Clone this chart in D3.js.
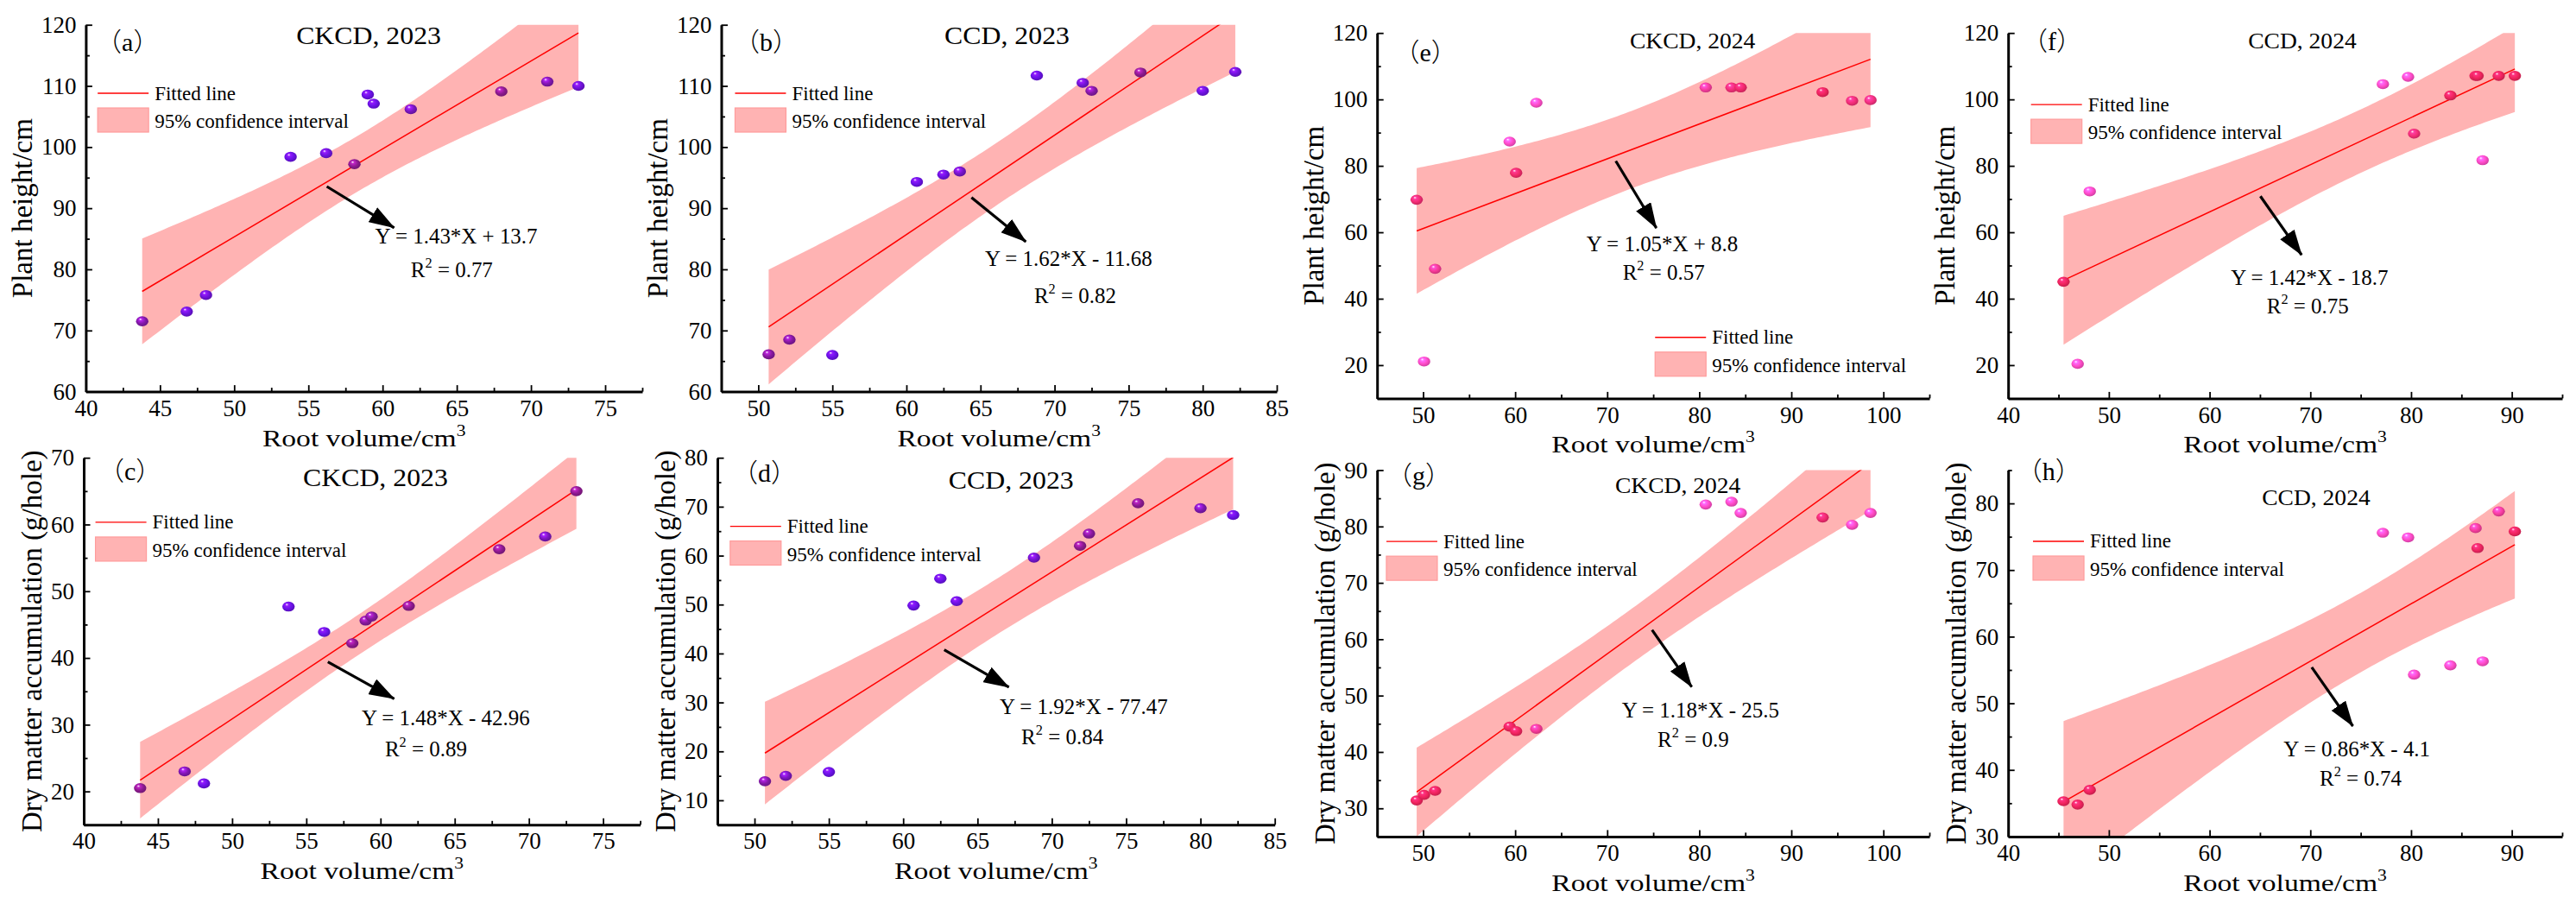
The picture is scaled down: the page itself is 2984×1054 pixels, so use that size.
<!DOCTYPE html>
<html>
<head>
<meta charset="utf-8">
<script src="https://cdn.jsdelivr.net/npm/d3@7"></script>
<style>
body { margin: 0; background: #fff; overflow: hidden; }
text { font-family: "Liberation Serif", "Times New Roman", serif; fill: #000; }
</style>
</head>
<body>
<script>
// ---- data ----
// root volume (cm3), shared by the plant-height and dry-matter panels of one treatment/year
var rootVolCKCD2023 = [43.8, 46.8, 48.1, 53.8, 56.2, 58.1, 59.0, 59.4, 61.9, 68.0, 71.1, 73.2];
var rootVolCCD2023 = [50.7, 52.1, 55.0, 60.7, 62.5, 63.6, 68.8, 71.9, 72.5, 75.8, 80.0, 82.2];
var rootVolCKCD2024 = [49.3, 50.1, 51.3, 59.4, 60.1, 62.3, 80.7, 83.5, 84.5, 93.4, 96.6, 98.6];
var rootVolCCD2024 = [45.5, 46.9, 48.1, 77.2, 79.7, 80.3, 83.9, 86.4, 86.6, 87.1, 88.7, 90.3];

// plant height (cm)
var heightCKCD2023 = [71.5, 73.1, 75.8, 98.4, 99.0, 97.2, 108.6, 107.1, 106.2, 109.1, 110.7, 110.0];
var heightCCD2023 = [66.1, 68.5, 66.0, 94.3, 95.5, 96.0, 111.7, 110.5, 109.2, 112.2, 109.2, 112.3];
var heightCKCD2024 = [69.8, 21.1, 49.0, 87.3, 77.9, 99.0, 103.6, 103.6, 103.6, 102.2, 99.6, 99.8];
var heightCCD2024 = [45.1, 20.4, 72.3, 104.6, 106.8, 89.7, 101.2, 107.1, 107.1, 81.7, 107.1, 107.1];

// dry matter accumulation (g/hole)
var dryCKCD2023 = [20.5, 23.0, 21.2, 47.7, 43.9, 42.2, 45.6, 46.2, 47.8, 56.3, 58.2, 65.0];
var dryCCD2023 = [13.9, 15.0, 15.8, 49.8, 55.3, 50.7, 59.6, 62.0, 64.5, 70.7, 69.7, 68.3];
var dryCKCD2024 = [31.4, 32.4, 33.1, 44.5, 43.7, 44.1, 83.9, 84.4, 82.4, 81.6, 80.3, 82.4];
var dryCCD2024 = [35.3, 34.8, 37.0, 75.6, 74.9, 54.3, 55.7, 76.3, 73.3, 56.3, 78.8, 75.8];

// tick labels
var xTicksCKCD2023 = [40, 45, 50, 55, 60, 65, 70, 75];
var xTicksCCD2023 = [50, 55, 60, 65, 70, 75, 80, 85];
var xTicksCKCD2024 = [50, 60, 70, 80, 90, 100];
var xTicksCCD2024 = [40, 50, 60, 70, 80, 90];
var yTicksHeight2023 = [60, 70, 80, 90, 100, 110, 120];
var yTicksHeight2024 = [20, 40, 60, 80, 100, 120];
var yTicksDryCKCD2023 = [20, 30, 40, 50, 60, 70];
var yTicksDryCCD2023 = [10, 20, 30, 40, 50, 60, 70, 80];
var yTicksDryCKCD2024 = [30, 40, 50, 60, 70, 80, 90];
var yTicksDryCCD2024 = [30, 40, 50, 60, 70, 80];

// texts
var panelLetters = ["a", "b", "c", "d", "e", "f", "g", "h"];
var panelTitles = ["CKCD, 2023", "CCD, 2023", "CKCD, 2023", "CCD, 2023",
                   "CKCD, 2024", "CCD, 2024", "CKCD, 2024", "CCD, 2024"];
var fitEquations = ["Y = 1.43*X + 13.7", "Y = 1.62*X - 11.68", "Y = 1.48*X - 42.96", "Y = 1.92*X - 77.47",
                    "Y = 1.05*X + 8.8", "Y = 1.42*X - 18.7", "Y = 1.18*X - 25.5", "Y = 0.86*X - 4.1"];
var rSquared = ["0.77", "0.82", "0.89", "0.84", "0.57", "0.75", "0.9", "0.74"];

// ---- layout of the eight panels ----
var panels = [
    { xs: rootVolCKCD2023, ys: heightCKCD2023, year: 2023, yLabel: "Plant height/cm",
      frame: { left: 99.4, right: 744, top: 28.7, bottom: 453.6 },
      xDomain: [40, 77.5], yDomain: [60, 120], xTicks: xTicksCKCD2023, xMinor: 2.5, yTicks: yTicksHeight2023, yMinor: 5,
      arrow: [[56.24, 93.55], [60.78, 86.8]], eqAt: [59.5, 84.2], r2At: [61.9, 78.7],
      titleAt: [59.06, 116.9], letterAt: [41.67, 115.7], legendAt: [40.8, 108.8] },
    { xs: rootVolCCD2023, ys: heightCCD2023, year: 2023, yLabel: "Plant height/cm",
      frame: { left: 835.5, right: 1479, top: 28.7, bottom: 453.6 },
      xDomain: [47.5, 85], yDomain: [60, 120], xTicks: xTicksCCD2023, xMinor: 2.5, yTicks: yTicksHeight2023, yMinor: 5,
      arrow: [[64.39, 91.74], [68.06, 84.53]], eqAt: [65.3, 80.56], r2At: [68.62, 74.42],
      titleAt: [66.79, 116.9], letterAt: [49.34, 115.7], legendAt: [48.43, 108.8] },
    { xs: rootVolCKCD2023, ys: dryCKCD2023, year: 2023, yLabel: "Dry matter accumulation (g/hole)",
      frame: { left: 97, right: 741.6, top: 530.2, bottom: 955.3 },
      xDomain: [40, 77.5], yDomain: [15, 70], xTicks: xTicksCKCD2023, xMinor: 2.5, yTicks: yTicksDryCKCD2023, yMinor: 5,
      arrow: [[56.45, 39.4], [60.92, 33.88]], eqAt: [58.73, 29.93], r2At: [60.3, 25.3],
      titleAt: [59.66, 65.8], letterAt: [41.98, 66.66], legendAt: [40.79, 60.33] },
    { xs: rootVolCCD2023, ys: dryCCD2023, year: 2023, yLabel: "Dry matter accumulation (g/hole)",
      frame: { left: 831, right: 1476.7, top: 530.2, bottom: 955.3 },
      xDomain: [47.5, 85], yDomain: [5, 80], xTicks: xTicksCCD2023, xMinor: 2.5, yTicks: yTicksDryCCD2023, yMinor: 5,
      arrow: [[62.76, 40.76], [67.11, 33.12]], eqAt: [66.49, 27.72], r2At: [67.95, 21.46],
      titleAt: [67.26, 73.7], letterAt: [49.48, 75.1], legendAt: [48.36, 66] },
    { xs: rootVolCKCD2024, ys: heightCKCD2024, year: 2024, yLabel: "Plant height/cm",
      frame: { left: 1595.2, right: 2235, top: 38.2, bottom: 461.4 },
      xDomain: [45, 105], yDomain: [10, 120], xTicks: xTicksCKCD2024, xMinor: 5, yTicks: yTicksHeight2024, yMinor: 10,
      arrow: [[70.93, 81.45], [75.34, 61.27]], eqAt: [67.75, 54.42], r2At: [71.68, 45.82],
      titleAt: [79.27, 115.43], letterAt: [48.4, 111.5], legendAt: [75.2, 28.36] },
    { xs: rootVolCCD2024, ys: heightCCD2024, year: 2024, yLabel: "Plant height/cm",
      frame: { left: 2326.2, right: 2968, top: 38.2, bottom: 461.4 },
      xDomain: [40, 95], yDomain: [10, 120], xTicks: xTicksCCD2024, xMinor: 5, yTicks: yTicksHeight2024, yMinor: 10,
      arrow: [[65.04, 70.87], [69.13, 53.18]], eqAt: [62.11, 44.17], r2At: [65.67, 35.48],
      titleAt: [69.2, 115.42], letterAt: [42.82, 114.98], legendAt: [42.27, 98.45] },
    { xs: rootVolCKCD2024, ys: dryCKCD2024, year: 2024, yLabel: "Dry matter accumulation (g/hole)",
      frame: { left: 1595.2, right: 2235, top: 544.5, bottom: 968.9 },
      xDomain: [45, 105], yDomain: [25, 90], xTicks: xTicksCKCD2024, xMinor: 5, yTicks: yTicksDryCKCD2024, yMinor: 5,
      arrow: [[74.87, 61.66], [79.18, 51.53]], eqAt: [71.59, 46.1], r2At: [75.47, 40.86],
      titleAt: [77.68, 85.93], letterAt: [47.6, 87.47], legendAt: [46.01, 77.34] },
    { xs: rootVolCCD2024, ys: dryCCD2024, year: 2024, yLabel: "Dry matter accumulation (g/hole)",
      frame: { left: 2326.2, right: 2968, top: 544.5, bottom: 968.9 },
      xDomain: [40, 95], yDomain: [30, 85], xTicks: xTicksCCD2024, xMinor: 5, yTicks: yTicksDryCCD2024, yMinor: 5,
      arrow: [[70.14, 55.4], [74.22, 46.58]], eqAt: [67.35, 42.05], r2At: [70.92, 37.65],
      titleAt: [70.57, 79.79], letterAt: [42.27, 83.54], legendAt: [42.47, 74.31] }
];

// near-line colour, far-from-line colour of the ball markers
var ballColors = { 2023: ["#8c1a8f", "#6a12e6"], 2024: ["#f0245e", "#ff4cc8"] };
var bandFill = "#ffb3b3";
var T_975 = 2.228; // Student t, 95% two-sided, df = 12 - 2

var svg = d3.select("body").append("svg")
    .attr("width", 2984)
    .attr("height", 1054);
var defs = svg.append("defs");

defs.append("marker")
    .attr("id", "arrowHead")
    .attr("viewBox", "0 0 30 20")
    .attr("refX", 29).attr("refY", 10)
    .attr("markerWidth", 30).attr("markerHeight", 20)
    .attr("markerUnits", "userSpaceOnUse")
    .attr("orient", "auto")
    .append("path")
    .attr("d", "M0,0 L30,10 L0,20 Z")
    .attr("fill", "#000");

//least squares fit with confidence band of the mean
function regression(xs, ys) {
    var n = xs.length, mx = d3.mean(xs), my = d3.mean(ys);
    var sxx = d3.sum(xs, function (v) { return (v - mx) * (v - mx); });
    var sxy = d3.sum(xs, function (v, i) { return (v - mx) * (ys[i] - my); });
    var b = sxy / sxx, a = my - b * mx;
    var s = Math.sqrt(d3.sum(xs, function (v, i) { return Math.pow(ys[i] - a - b * v, 2); }) / (n - 2));
    return {
        pred: function (v) { return a + b * v; },
        half: function (v) { return T_975 * s * Math.sqrt(1 / n + (v - mx) * (v - mx) / sxx); }
    };
}

//text with horizontal stretch around its anchor point
function addText(g, px, py, str, size, stretch, anchor) {
    return g.append("text")
        .attr("transform", "translate(" + px + "," + py + ") scale(" + stretch + ",1)")
        .attr("text-anchor", anchor || "start")
        .attr("font-size", size)
        .text(str);
}

function drawPanel(p, k) {
    var f = p.frame;
    var g = svg.append("g").attr("class", "panel-" + panelLetters[k]);

    var x = d3.scaleLinear().domain(p.xDomain).range([f.left, f.right]);
    var y = d3.scaleLinear().domain(p.yDomain).range([f.bottom, f.top]);

    defs.append("clipPath").attr("id", "clip" + k)
        .append("rect")
        .attr("x", f.left).attr("y", f.top)
        .attr("width", f.right - f.left).attr("height", f.bottom - f.top);

    var fit = regression(p.xs, p.ys);
    var xMin = d3.min(p.xs), xMax = d3.max(p.xs);
    var dense = d3.range(0, 121).map(function (i) { return xMin + (xMax - xMin) * i / 120; });

    var plot = g.append("g").attr("clip-path", "url(#clip" + k + ")");

    //95% confidence band
    plot.append("path")
        .datum(dense)
        .attr("fill", bandFill)
        .attr("d", d3.area()
            .x(function (v) { return x(v); })
            .y0(function (v) { return y(fit.pred(v) - fit.half(v)); })
            .y1(function (v) { return y(fit.pred(v) + fit.half(v)); }));

    //fitted line
    plot.append("path")
        .datum([xMin, xMax])
        .attr("fill", "none")
        .attr("stroke", "#ff0000")
        .attr("stroke-width", 1.5)
        .attr("d", d3.line()
            .x(function (v) { return x(v); })
            .y(function (v) { return y(fit.pred(v)); }));

    //ball markers, coloured by distance from the line relative to the band
    var cols = ballColors[p.year];
    var colorScale = d3.scaleLinear().domain([0.35, 1.1]).range(cols)
        .interpolate(d3.interpolateRgb).clamp(true);

    var pts = p.xs.map(function (v, i) {
        var ratio = Math.abs(p.ys[i] - fit.pred(v)) / fit.half(v);
        return { x: v, y: p.ys[i], c: colorScale(ratio) };
    });

    pts.forEach(function (d, i) {
        var base = d3.color(d.c);
        var grad = defs.append("radialGradient")
            .attr("id", "ball" + k + "_" + i)
            .attr("cx", "0.45").attr("cy", "0.45").attr("r", "0.6")
            .attr("fx", "0.35").attr("fy", "0.28");
        grad.append("stop").attr("offset", "0").attr("stop-color", "#ffffff");
        grad.append("stop").attr("offset", "0.22").attr("stop-color", base.brighter(0.9).formatHex());
        grad.append("stop").attr("offset", "0.6").attr("stop-color", base.formatHex());
        grad.append("stop").attr("offset", "1").attr("stop-color", base.darker(0.7).formatHex());
    });

    g.append("g").selectAll("ellipse")
        .data(pts)
        .join("ellipse")
        .attr("cx", function (d) { return x(d.x); })
        .attr("cy", function (d) { return y(d.y); })
        .attr("rx", 7.2)
        .attr("ry", 5.8)
        .attr("fill", function (d, i) { return "url(#ball" + k + "_" + i + ")"; });

    //axes, ticks pointing inward
    var minorX = d3.range(p.xDomain[0], p.xDomain[1] + 1e-6, p.xMinor)
        .filter(function (v) { return p.xTicks.indexOf(v) < 0; });
    var minorY = d3.range(p.yDomain[0], p.yDomain[1] + 1e-6, p.yMinor)
        .filter(function (v) { return p.yTicks.indexOf(v) < 0; });

    var gxMinor = g.append("g")
        .attr("transform", "translate(0," + f.bottom + ")")
        .call(d3.axisBottom(x).tickValues(minorX).tickSizeInner(-4.5).tickSizeOuter(0).tickFormat(""));
    gxMinor.select(".domain").remove();
    gxMinor.selectAll(".tick line").attr("stroke-width", 1.8);

    var gyMinor = g.append("g")
        .attr("transform", "translate(" + f.left + ",0)")
        .call(d3.axisLeft(y).tickValues(minorY).tickSizeInner(-4.5).tickSizeOuter(0).tickFormat(""));
    gyMinor.select(".domain").remove();
    gyMinor.selectAll(".tick line").attr("stroke-width", 1.8);

    var gx = g.append("g")
        .attr("transform", "translate(0," + f.bottom + ")")
        .call(d3.axisBottom(x).tickValues(p.xTicks).tickSizeInner(-7.5).tickSizeOuter(0).tickPadding(9));
    var gy = g.append("g")
        .attr("transform", "translate(" + f.left + ",0)")
        .call(d3.axisLeft(y).tickValues(p.yTicks).tickSizeInner(-7.5).tickSizeOuter(0).tickPadding(11));

    [gx, gy].forEach(function (ax) {
        ax.attr("font-family", null).attr("font-size", null);
        ax.select(".domain").attr("stroke-width", 3);
        ax.selectAll(".tick line").attr("stroke-width", 1.8);
        ax.selectAll(".tick text").attr("font-size", 27).attr("fill", "#000");
    });

    //axis titles
    var xt = g.append("text")
        .attr("transform", "translate(" + ((f.left + f.right) / 2) + "," + (f.bottom + 63) + ") scale(1.2,1)")
        .attr("text-anchor", "middle")
        .attr("font-size", 28);
    xt.append("tspan").text("Root volume/cm");
    xt.append("tspan").attr("font-size", 18).attr("dy", -12).text("3");

    var maxChars = d3.max(p.yTicks, function (v) { return String(v).length; });
    g.append("text")
        .attr("transform", "translate(" + (f.left - (13.5 * maxChars + 22)) + "," + ((f.top + f.bottom) / 2) + ") rotate(-90)")
        .attr("text-anchor", "middle")
        .attr("font-size", 33)
        .text(p.yLabel);

    //panel letter with full-width brackets, and title
    var cjk = "'Noto Sans CJK SC', 'Noto Sans CJK JP', sans-serif";
    var lt = addText(g, x(p.letterAt[0]) - 17, y(p.letterAt[1]), "", 30, 1);
    lt.append("tspan").attr("font-family", cjk).attr("font-weight", 300).text("\uff08");
    lt.append("tspan").text(panelLetters[k]);
    lt.append("tspan").attr("font-family", cjk).attr("font-weight", 300).text("\uff09");
    addText(g, x(p.titleAt[0]), y(p.titleAt[1]), panelTitles[k], p.year === 2023 ? 30 : 26, 1.06, "middle");

    //legend
    var lx = x(p.legendAt[0]), ly = y(p.legendAt[1]);
    g.append("line")
        .attr("x1", lx).attr("x2", lx + 59)
        .attr("y1", ly).attr("y2", ly)
        .attr("stroke", "#ff0000").attr("stroke-width", 1.3);
    addText(g, lx + 66, ly + 7.5, "Fitted line", 23, 1);
    g.append("rect")
        .attr("x", lx).attr("y", ly + 17)
        .attr("width", 59).attr("height", 28)
        .attr("fill", bandFill)
        .attr("stroke", "#ff9c9c").attr("stroke-width", 1.2);
    addText(g, lx + 66, ly + 40, "95% confidence interval", 23, 1);

    //arrow and equation
    g.append("line")
        .attr("x1", x(p.arrow[0][0])).attr("y1", y(p.arrow[0][1]))
        .attr("x2", x(p.arrow[1][0])).attr("y2", y(p.arrow[1][1]))
        .attr("stroke", "#000").attr("stroke-width", 3.2)
        .attr("marker-end", "url(#arrowHead)");

    addText(g, x(p.eqAt[0]), y(p.eqAt[1]), fitEquations[k], 26, 0.96);
    var r2 = addText(g, x(p.r2At[0]), y(p.r2At[1]), "R", 26, 0.96);
    r2.append("tspan").attr("font-size", 17).attr("dy", -11).text("2");
    r2.append("tspan").attr("dy", 11).text(" = " + rSquared[k]);
}

panels.forEach(drawPanel);
</script>
</body>
</html>
